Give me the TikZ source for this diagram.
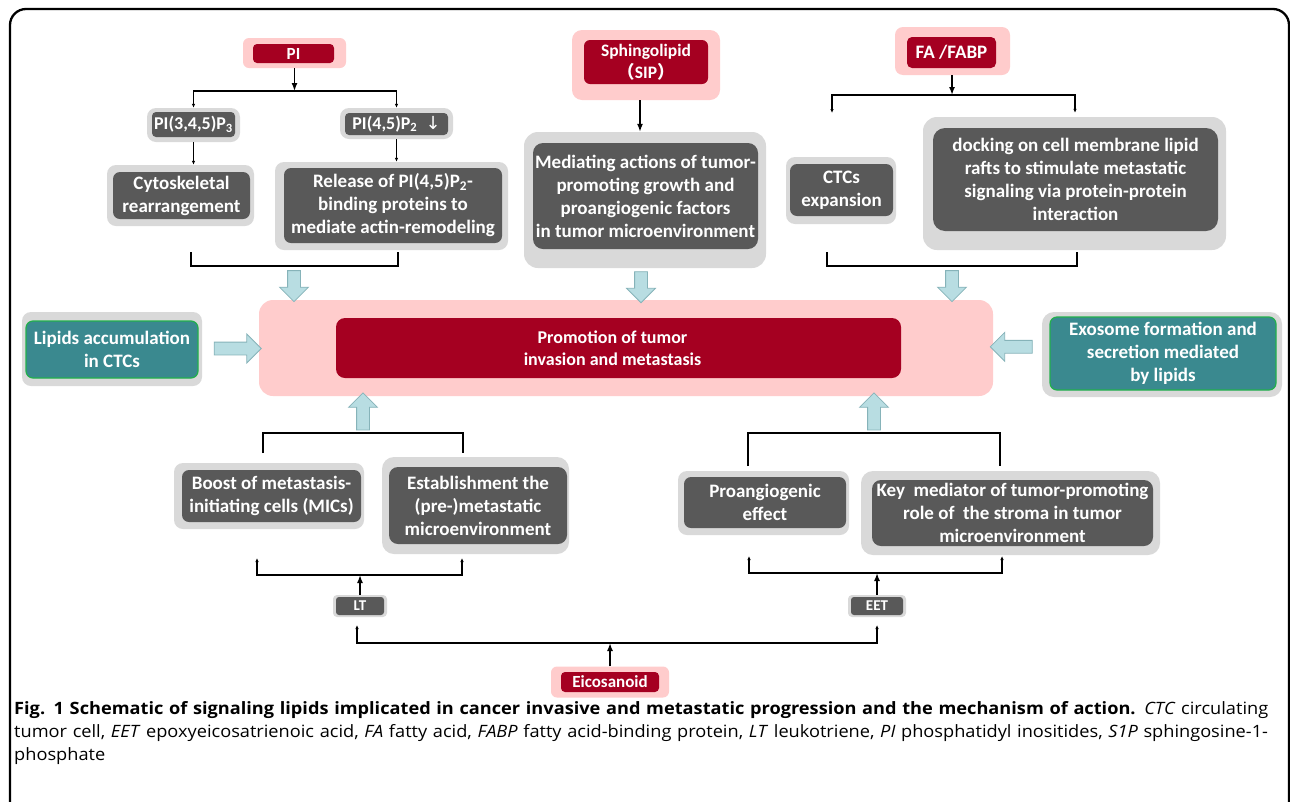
\documentclass[tikz,border=0pt]{standalone}
\usepackage{fontspec}
\setmainfont{Carlito}
\newfontfamily\capfont[FakeStretch=1.07]{Open Sans}
\newfontfamily\symfont{DejaVu Sans}
\newfontfamily\cjkfont{Noto Sans CJK SC}
\usetikzlibrary{arrows.meta,shapes.arrows,calc}
\definecolor{pinkbg}{HTML}{FFCCCC}
\definecolor{darkred}{HTML}{A50021}
\definecolor{graybg}{HTML}{D9D9D9}
\definecolor{darkgraybox}{HTML}{595959}
\definecolor{tealbox}{HTML}{3A898F}
\definecolor{tealedge}{HTML}{22B04C}
\definecolor{arrfill}{HTML}{B8DDE2}
\definecolor{arredge}{HTML}{86B3B9}
\tikzset{
  outerg/.style={fill=graybg, rounded corners=9pt, inner sep=0pt},
  innerg/.style={fill=darkgraybox, rounded corners=7pt, inner sep=0pt, text=white, align=center,
    font=\bfseries\fontsize{19}{23}\selectfont},
  outerp/.style={fill=pinkbg, rounded corners=6pt, inner sep=0pt},
  innerr/.style={fill=darkred, rounded corners=4pt, inner sep=0pt, text=white, align=center,
    font=\bfseries\fontsize{18}{22}\selectfont},
  innert/.style={fill=tealbox, draw=tealedge, line width=1.2pt, rounded corners=7pt, inner sep=0pt,
    text=white, align=center, font=\bfseries\fontsize{19}{23}\selectfont},
  conn/.style={line width=1.5pt, draw=black},
  bigtip/.style={-{Latex[length=8pt,width=6pt]}},
  smalltip/.style={-{Latex[length=4pt,width=3.5pt]}},
  barrow/.style={single arrow, draw=arredge, fill=arrfill, line width=0.8pt,
    inner xsep=0pt, inner ysep=6pt, single arrow head extend=8pt, single arrow tip angle=90},
}
\begin{document}
\begin{tikzpicture}[x=1pt,y=-1pt]
\useasboundingbox (0,0) rectangle (1290,801);
\fill[white] (0,0) rectangle (1290,801);
\draw[line width=2.3pt, rounded corners=16pt] (10,9) rectangle (1289,850);

% ---------- PI branch ----------
\node[outerp, minimum width=103pt, minimum height=30pt] (pio) at (294.5,53) {};
\node[innerr, minimum width=81pt, minimum height=19pt, font=\bfseries\fontsize{17}{18}\selectfont] (pi) at (293.5,53.5) {PI};
\coordinate (piJ) at (294.5,91);
\node[outerg, minimum width=93pt, minimum height=34pt] (pi3o) at (193.5,125) {};
\node[innerg, minimum width=83pt, minimum height=25pt, rounded corners=4pt, font=\bfseries\fontsize{18}{22}\selectfont] (pi3) at (193.5,124.5) {PI(3,4,5)P\textsubscript{3}};
\node[outerg, minimum width=113pt, minimum height=31pt] (pi2o) at (396.5,123.5) {};
\node[innerg, minimum width=103pt, minimum height=22pt, rounded corners=4pt, font=\bfseries\fontsize{18}{22}\selectfont] (pi2) at (396.5,124) {PI(4,5)P\textsubscript{2}\ \ {\symfont\mdseries ↓}};
\draw[conn, bigtip] (pio.south) -- (piJ);
\draw[conn, smalltip] (piJ) -| (pi3o.north);
\draw[conn, smalltip] (piJ) -| (pi2o.north);

\node[outerg, minimum width=147pt, minimum height=61pt] (cytoo) at (180.5,195.5) {};
\node[innerg, minimum width=137pt, minimum height=47pt] (cyto) at (181.5,195.5) {Cytoskeletal\\rearrangement};
\node[outerg, minimum width=233pt, minimum height=88pt] (relo) at (391.5,206) {};
\node[innerg, minimum width=218pt, minimum height=75pt] (rel) at (393,205.5) {Release of PI(4,5)P\textsubscript{2}-\\binding proteins to\\mediate actin-remodeling};
\draw[conn, smalltip] (pi3o.south) -- (pi3o.south |- cytoo.north);
\draw[conn, smalltip] (pi2o.south) -- (pi2o.south |- relo.north);

\coordinate (b1l) at (191,252);
\coordinate (b1r) at (398,252);
\coordinate (b1m) at (294,266);
\draw[conn] (b1l) |- (b1m) -| (b1r);

% ---------- Sphingolipid branch ----------
\node[outerp, minimum width=148pt, minimum height=70pt, rounded corners=10pt] (spo) at (646,65) {};
\node[innerr, minimum width=124pt, minimum height=44pt, rounded corners=6pt, font=\bfseries\fontsize{17.5}{22}\selectfont] (sp) at (646,62) {Sphingolipid\\{\cjkfont （}SIP{\cjkfont ）}};
\node[outerg, minimum width=242pt, minimum height=136pt, rounded corners=14pt] (medo) at (645,200) {};
\node[innerg, minimum width=225pt, minimum height=106pt, rounded corners=10pt] (med) at (645.5,196) {Mediating actions of tumor-\\promoting growth and\\proangiogenic factors\\in tumor microenvironment};
\draw[conn, bigtip] (spo.south -| 640,0) -- (medo.north -| 640,0);

% ---------- FA / FABP branch ----------
\node[outerp, minimum width=115pt, minimum height=48pt, rounded corners=8pt] (fao) at (952.5,51) {};
\node[innerr, minimum width=89pt, minimum height=31pt, rounded corners=5pt, font=\bfseries\fontsize{19}{22}\selectfont] (fa) at (951.5,52.5) {FA /FABP};
\coordinate (faJ) at (952,95);
\coordinate (faL) at (832,113);
\node[outerg, minimum width=110pt, minimum height=67pt] (ctco) at (841,190.5) {};
\node[innerg, minimum width=103pt, minimum height=52pt] (ctc) at (841.5,190) {CTCs\\expansion};
\node[outerg, minimum width=303pt, minimum height=133pt, rounded corners=14pt] (docko) at (1074.5,183.5) {};
\node[innerg, minimum width=285pt, minimum height=103pt, rounded corners=12pt] (dock) at (1075.5,179.5) {docking on cell membrane lipid\\rafts to stimulate metastatic\\signaling via protein-protein\\interaction};
\draw[conn, bigtip] (fao.south -| faJ) -- (faJ);
\draw[conn, smalltip] (faJ) -| (faL);
\draw[conn, smalltip] (faJ) -| ($(docko.north)+(0.5,-4)$);
\coordinate (b3l) at (827,252);
\coordinate (b3r) at (1077,252);
\coordinate (b3m) at (952,266);
\draw[conn] (b3l) |- (b3m) -| (b3r);

% ---------- Central ----------
\node[fill=pinkbg, rounded corners=14pt, minimum width=734pt, minimum height=96pt, inner sep=0pt] (central) at (626,348) {};
\node[innerr, minimum width=565pt, minimum height=60pt, rounded corners=9pt] (promo) at (618.5,348) {\hspace*{-12pt}Promotion of tumor\\\hspace*{-12pt}invasion and metastasis};

\node[outerg, minimum width=180pt, minimum height=74pt] (lipo) at (112,349) {};
\node[innert, minimum width=172pt, minimum height=57pt] (lip) at (112,349.5) {Lipids accumulation\\in CTCs};
\node[outerg, minimum width=240pt, minimum height=85pt, rounded corners=12pt] (exoo) at (1162,354.5) {};
\node[innert, minimum width=226pt, minimum height=73pt] (exo) at (1163,353.5) {Exosome formation and\\secretion mediated\\by lipids};

% block arrows
\node[barrow, minimum height=31pt, rotate=-90] (ba1) at ($(b1m)!0.5!(b1m |- central.north)$) {};
\node[barrow, minimum height=31pt, rotate=-90] (ba2) at ($(medo.south -| 641,0)!0.5!(central.north -| 641,0)$) {};
\node[barrow, minimum height=31pt, rotate=-90] (ba3) at ($(b3m)!0.5!(b3m |- central.north)$) {};
\node[barrow, minimum height=47pt] (ba4) at ($(lipo.east)!0.5!(central.west)+(4,0)$) {};
\node[barrow, minimum height=42pt, rotate=180] (ba5) at ($(exoo.west)!0.5!(central.east)+(-3,-4.5)$) {};

% ---------- lower left (LT) ----------
\coordinate (b4l) at (263,453);
\coordinate (b4r) at (463,453);
\coordinate (b4m) at (363,433);
\draw[conn] (b4l) |- (b4m) -| (b4r);
\node[barrow, minimum height=37pt, rotate=90] (ba6) at ($(b4m)!0.5!(b4m |- central.south)$) {};
\node[outerg, minimum width=190pt, minimum height=66pt] (boosto) at (269,496) {};
\node[innerg, minimum width=179pt, minimum height=52pt] (boost) at (271.5,496) {Boost of metastasis-\\initiating cells (MICs)};
\node[outerg, minimum width=187pt, minimum height=97pt, rounded corners=12pt] (esto) at (475.5,505.5) {};
\node[innerg, minimum width=178pt, minimum height=77pt, rounded corners=9pt] (est) at (478,505.5) {Establishment the\\(pre-)metastatic\\microenvironment};

\coordinate (ltJ) at (360,575);
\coordinate (ltA) at (257,558);
\coordinate (ltB) at (462,558);
\draw[conn, smalltip] (ltJ) -| (ltA);
\draw[conn, smalltip] (ltJ) -| (ltB);
\node[outerg, minimum width=54pt, minimum height=22pt, rounded corners=4pt] (lto) at (360,606) {};
\node[innerg, minimum width=48pt, minimum height=18pt, rounded corners=3pt, font=\bfseries\fontsize{15}{17}\selectfont] (lt) at (360,606) {LT};
\draw[conn, bigtip] (lto.north) -- (ltJ);

% ---------- lower right (EET) ----------
\coordinate (b5l) at (748,466);
\coordinate (b5r) at (1000,466);
\coordinate (b5m) at (874,433);
\draw[conn] (b5l) |- (b5m) -| (b5r);
\node[barrow, minimum height=37pt, rotate=90] (ba7) at ($(b5m)!0.5!(b5m |- central.south)$) {};
\node[outerg, minimum width=171pt, minimum height=64pt] (proo) at (763.5,503) {};
\node[innerg, minimum width=162pt, minimum height=51pt] (pro) at (765,502.5) {Proangiogenic\\effect};
\node[outerg, minimum width=299pt, minimum height=84pt, rounded corners=12pt] (keyo) at (1010.5,513) {};
\node[innerg, minimum width=281pt, minimum height=66pt, rounded corners=9pt] (key) at (1012.5,513) {Key\ \ mediator of tumor-promoting\\role of\ \ the stroma in tumor\\microenvironment};

\coordinate (eetJ) at (877,573);
\coordinate (eetA) at (749,556);
\coordinate (eetB) at (1002,556);
\draw[conn, smalltip] (eetJ) -| (eetA);
\draw[conn, smalltip] (eetJ) -| (eetB);
\node[outerg, minimum width=58pt, minimum height=22pt, rounded corners=4pt] (eeto) at (877,606) {};
\node[innerg, minimum width=52pt, minimum height=18pt, rounded corners=3pt, font=\bfseries\fontsize{15}{17}\selectfont] (eet) at (877,606) {EET};
\draw[conn, bigtip] (eeto.north) -- (eetJ);

% ---------- Eicosanoid ----------
\node[outerp, minimum width=118pt, minimum height=31pt] (eicoo) at (610,682) {};
\node[innerr, minimum width=98pt, minimum height=20pt, font=\bfseries\fontsize{17}{18}\selectfont] (eico) at (610,682) {Eicosanoid};
\coordinate (eJ) at (610,643);
\coordinate (eA) at (357,625);
\coordinate (eB) at (877,625);
\draw[conn, bigtip] (eicoo.north) -- (eJ);
\draw[conn, smalltip] (eJ) -| (eA);
\draw[conn, smalltip] (eJ) -| (eB);

% ---------- caption ----------
\node[anchor=north west, inner sep=0pt, align=left, text width=1300pt,
  font=\capfont\fontsize{17}{23}\selectfont] (cap) at (14,701)
{\textbf{Fig. 1 Schematic of signaling lipids implicated in cancer invasive and metastatic progression and the mechanism of action.} \textit{CTC} circulating\\
tumor cell, \textit{EET} epoxyeicosatrienoic acid, \textit{FA} fatty acid, \textit{FABP} fatty acid-binding protein, \textit{LT} leukotriene, \textit{PI} phosphatidyl inositides, \textit{S1P} sphingosine-1-\\
phosphate};
\end{tikzpicture}
\end{document}
